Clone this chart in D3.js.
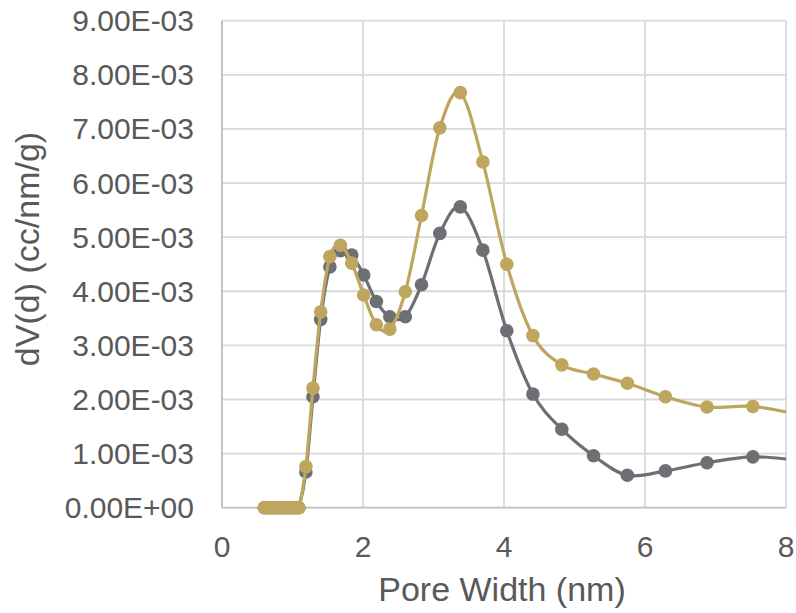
<!DOCTYPE html>
<html>
<head>
<meta charset="utf-8">
<script src="https://cdn.jsdelivr.net/npm/d3@7"></script>
<style>
  html, body { margin: 0; padding: 0; background: #fff; }
  svg { display: block; }
</style>
</head>
<body>
<svg id="chart" width="796" height="613"></svg>
<script>
// ---- data ----
const poreWidth = [0.60, 0.65, 0.70, 0.75, 0.80, 0.85, 0.90, 0.95, 1.00, 1.05, 1.09,
  1.19, 1.29, 1.40, 1.53, 1.68, 1.84, 2.01, 2.19, 2.38, 2.60, 2.83, 3.09, 3.38,
  3.70, 4.04, 4.41, 4.82, 5.27, 5.75, 6.29, 6.88, 7.53, 8.25];
const seriesGray = [0, 0, 0, 0, 0, 0, 0, 0, 0, 0, 0,
  0.66, 2.05, 3.48, 4.45, 4.75, 4.67, 4.30, 3.81, 3.53, 3.53, 4.12, 5.07, 5.56,
  4.76, 3.27, 2.10, 1.45, 0.96, 0.60, 0.68, 0.83, 0.94, 0.86];
const seriesGold = [0, 0, 0, 0, 0, 0, 0, 0, 0, 0, 0,
  0.76, 2.21, 3.62, 4.64, 4.85, 4.52, 3.93, 3.38, 3.30, 3.99, 5.40, 7.02, 7.67,
  6.39, 4.50, 3.18, 2.64, 2.47, 2.30, 2.05, 1.86, 1.87, 1.70];
const xTicks = [0, 2, 4, 6, 8];
const yTicks = [0, 1, 2, 3, 4, 5, 6, 7, 8, 9];   // ×1e-3
const xTitle = "Pore Width (nm)";
const yTitle = "dV(d) (cc/nm/g)";

// ---- layout ----
const svg = d3.select("#chart");
const L = 222, R = 786, T = 20.7, B = 507.7;
const x = d3.scaleLinear().domain([0, 8]).range([L, R]);
const y = d3.scaleLinear().domain([0, 9]).range([B, T]);
const font = "'Liberation Sans', Arial, sans-serif";
const textColor = "#595959";

// gridlines
const grid = svg.append("g");
grid.selectAll("line.h").data(yTicks.filter(d => d > 0)).join("line")
  .attr("x1", L).attr("x2", R).attr("y1", d => y(d)).attr("y2", d => y(d))
  .attr("stroke", "#D9D9D9").attr("stroke-width", 1.8);
grid.selectAll("line.v").data(xTicks.filter(d => d > 0)).join("line")
  .attr("y1", T).attr("y2", B).attr("x1", d => x(d)).attr("x2", d => x(d))
  .attr("stroke", "#D9D9D9").attr("stroke-width", 1.8);

// axes lines
svg.append("line").attr("x1", L).attr("x2", L).attr("y1", T).attr("y2", B)
  .attr("stroke", "#BFBFBF").attr("stroke-width", 1.8);
svg.append("line").attr("x1", L).attr("x2", R).attr("y1", B).attr("y2", B)
  .attr("stroke", "#BFBFBF").attr("stroke-width", 1.8);

// tick labels
const yFmt = d => (d === 0 ? "0.00E+00" : d.toFixed(2) + "E-03");
svg.append("g").selectAll("text").data(yTicks).join("text")
  .attr("x", 194).attr("y", d => y(d)).attr("dy", "0.35em")
  .attr("text-anchor", "end").attr("font-family", font).attr("font-size", 30)
  .attr("fill", textColor).text(yFmt);
svg.append("g").selectAll("text").data(xTicks).join("text")
  .attr("x", d => x(d)).attr("y", 557)
  .attr("text-anchor", "middle").attr("font-family", font).attr("font-size", 30)
  .attr("fill", textColor).text(d => d);

// titles
svg.append("text").attr("x", (L + R) / 2 - 2).attr("y", 601)
  .attr("text-anchor", "middle").attr("font-family", font).attr("font-size", 34)
  .attr("fill", textColor).text(xTitle);
svg.append("text").attr("transform", "translate(39,249) rotate(-90)")
  .attr("text-anchor", "middle").attr("font-family", font).attr("font-size", 34)
  .attr("fill", textColor).text(yTitle);

// clip
svg.append("clipPath").attr("id", "plotclip").append("rect")
  .attr("x", L - 20).attr("y", 0).attr("width", R - L + 20).attr("height", 613);

const line = d3.line().x(d => x(d[0])).y(d => y(d[1])).curve(d3.curveCardinal.tension(0));
const series = [
  { vals: seriesGray, color: "#6D6F74" },
  { vals: seriesGold, color: "#BFA65F" }
];
const plot = svg.append("g").attr("clip-path", "url(#plotclip)");
series.forEach(s => {
  const pts = poreWidth.map((p, i) => [p, s.vals[i]]);
  plot.append("path").datum(pts).attr("d", line)
    .attr("fill", "none").attr("stroke", s.color).attr("stroke-width", 3.2);
  plot.append("g").selectAll("circle").data(pts.filter(d => d[0] <= 8)).join("circle")
    .attr("cx", d => x(d[0])).attr("cy", d => y(d[1])).attr("r", 6.8)
    .attr("fill", s.color);
});
</script>
</body>
</html>
